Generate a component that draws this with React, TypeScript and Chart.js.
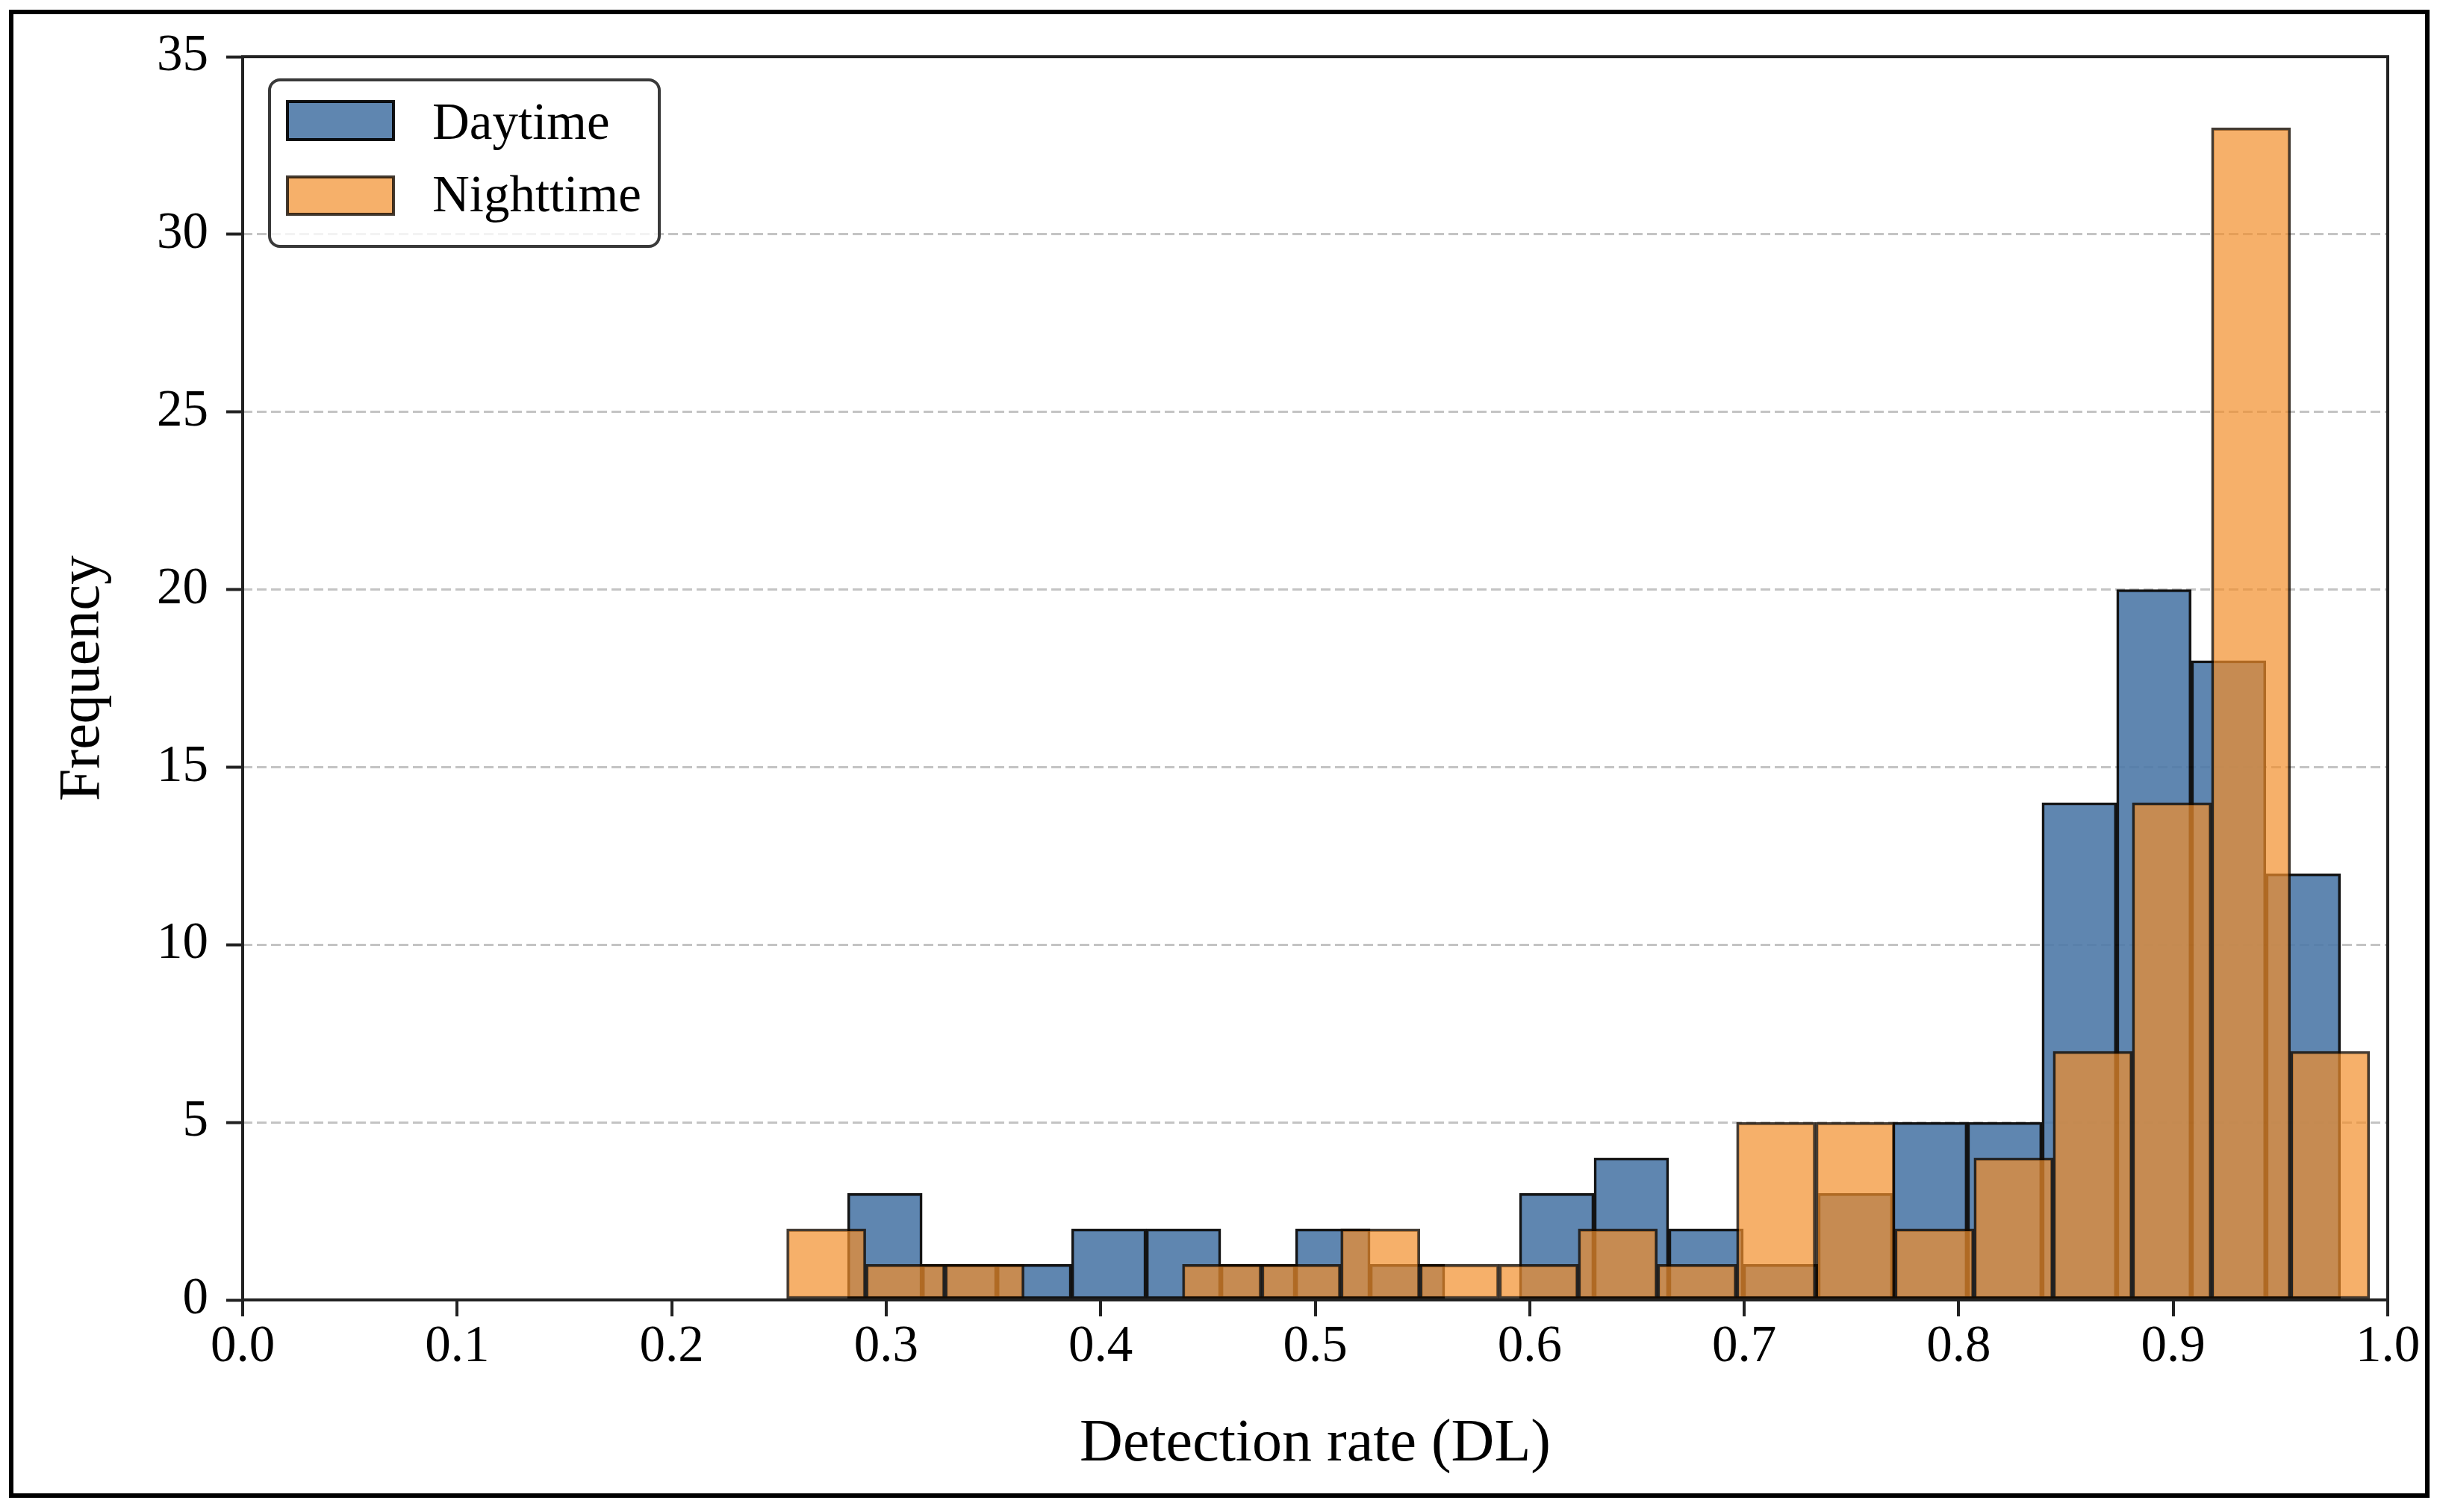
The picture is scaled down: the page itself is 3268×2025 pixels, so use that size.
import React, { useEffect, useRef } from 'react';
import { Chart, registerables } from 'chart.js';

Chart.register(...registerables);

// ---- data ----
const seriesLabels = ['Daytime', 'Nighttime'];

// histogram bin edges (detection rate)
const dayBinEdges = [
  0.2820, 0.3168, 0.3516, 0.3864, 0.4212, 0.4560, 0.4908, 0.5256, 0.5604, 0.5952,
  0.6300, 0.6648, 0.6996, 0.7344, 0.7692, 0.8040, 0.8388, 0.8736, 0.9084, 0.9432, 0.9780,
];
const dayCounts = [3, 1, 1, 2, 2, 1, 2, 1, 0, 3, 4, 2, 1, 3, 5, 5, 14, 20, 18, 12];

const nightBinEdges = [
  0.2536, 0.2905, 0.3274, 0.3643, 0.4012, 0.4381, 0.4750, 0.5119, 0.5488, 0.5857,
  0.6226, 0.6595, 0.6964, 0.7333, 0.7702, 0.8071, 0.8440, 0.8809, 0.9178, 0.9547, 0.9916,
];
const nightCounts = [2, 1, 1, 0, 0, 1, 1, 2, 1, 1, 2, 1, 5, 5, 2, 4, 7, 14, 33, 7];

const xAxisRange = [0, 1];
const xTickStep = 0.1;
const yAxisRange = [0, 35];
const yTickStep = 5;

const xTitle = 'Detection rate (DL)';
const yTitle = 'Frequency';

// ---- helpers ----
const toPoints = (edges: number[], counts: number[]) =>
  counts.map((c, i) => ({ x: (edges[i] + edges[i + 1]) / 2, y: c }));

const FONT = '"Liberation Serif", "Times New Roman", Times, serif';
Chart.defaults.font.family = FONT;

const spinesPlugin = {
  id: 'spines',
  afterDatasetsDraw(chart: any) {
    const { ctx, chartArea } = chart;
    const { left, top, right, bottom } = chartArea;
    ctx.save();
    ctx.strokeStyle = '#222';
    ctx.lineWidth = 4;
    ctx.strokeRect(left, top, right - left, bottom - top);
    ctx.restore();
  },
};

const boxLegendPlugin = {
  id: 'boxLegend',
  afterDraw(chart: any) {
    const { ctx } = chart;
    const ds = chart.data.datasets;
    ctx.save();
    ctx.beginPath();
    ctx.roundRect(361, 107, 522, 223, 14);
    ctx.fillStyle = 'rgba(255,255,255,0.8)';
    ctx.fill();
    ctx.lineWidth = 4;
    ctx.strokeStyle = '#3a3a3a';
    ctx.stroke();
    const rows = [
      { sy: 136, sh: 51, base: 186 },
      { sy: 237, sh: 50, base: 283 },
    ];
    ds.forEach((d: any, i: number) => {
      const r = rows[i];
      ctx.fillStyle = '#fff';
      ctx.fillRect(385, r.sy, 142, r.sh);
      ctx.fillStyle = d.backgroundColor;
      ctx.fillRect(385, r.sy, 142, r.sh);
      ctx.lineWidth = 4;
      ctx.strokeStyle = d.borderColor;
      ctx.strokeRect(385, r.sy, 142, r.sh);
      ctx.fillStyle = '#000';
      ctx.font = `69px ${FONT}`;
      ctx.textBaseline = 'alphabetic';
      ctx.textAlign = 'left';
      ctx.fillText(d.label, 579, r.base);
    });
    ctx.restore();
  },
};

export default function App() {
  const canvasRef = useRef<HTMLCanvasElement | null>(null);

  useEffect(() => {
    document.body.style.margin = '0';
    document.body.style.overflow = 'hidden';
    const canvas = canvasRef.current;
    if (!canvas) return;

    const barCommon = {
      borderWidth: 3.5,
      borderSkipped: false,
      barPercentage: 1,
      categoryPercentage: 1,
      grouped: false,
      yAxisID: 'y',
    };

    const hiddenX = {
      type: 'linear',
      display: false,
      offset: false,
      min: xAxisRange[0],
      max: xAxisRange[1],
      ticks: { stepSize: 0.5 },
      grid: { offset: false },
    };

    const chart = new Chart(canvas, {
      type: 'bar',
      data: {
        datasets: [
          {
            ...barCommon,
            label: seriesLabels[0],
            data: toPoints(dayBinEdges, dayCounts),
            xAxisID: 'xDay',
            backgroundColor: 'rgba(78,121,167,0.9)',
            borderColor: 'rgba(0,0,0,0.92)',
            order: 2,
          },
          {
            ...barCommon,
            label: seriesLabels[1],
            data: toPoints(nightBinEdges, nightCounts),
            xAxisID: 'xNight',
            backgroundColor: 'rgba(242,142,43,0.7)',
            borderColor: 'rgba(20,10,0,0.8)',
            order: 1,
          },
        ] as any,
      },
      plugins: [spinesPlugin, boxLegendPlugin],
      options: {
        animation: false,
        responsive: false,
        devicePixelRatio: 1,
        layout: { padding: { left: 20, right: 70, top: 76, bottom: 20 } },
        plugins: {
          legend: { display: false },
          tooltip: { enabled: false },
        },
        scales: {
          x: {
            type: 'linear',
            position: 'bottom',
            offset: false,
            min: xAxisRange[0],
            max: xAxisRange[1],
            ticks: {
              stepSize: xTickStep,
              callback: (v: any) => Number(v).toFixed(1),
              font: { size: 69 },
              color: '#000',
              padding: 0,
              maxRotation: 0,
              autoSkip: false,
            },
            grid: {
              offset: false,
              drawOnChartArea: false,
              drawTicks: true,
              tickLength: 22,
              tickWidth: 4,
              tickColor: '#222',
              lineWidth: 4,
              color: '#222',
            },
            border: { display: false },
            title: {
              display: true,
              text: xTitle,
              font: { size: 80 },
              color: '#000',
              padding: { top: 0, bottom: 22 },
            },
            afterFit: (s: any) => {
              s.height = 264;
            },
          },
          xDay: hiddenX,
          xNight: hiddenX,
          y: {
            type: 'linear',
            position: 'left',
            min: yAxisRange[0],
            max: yAxisRange[1],
            ticks: {
              stepSize: yTickStep,
              font: { size: 69 },
              color: '#000',
              padding: 24,
            },
            grid: {
              color: '#c4c4c4',
              lineWidth: 3,
              drawTicks: true,
              tickLength: 22,
              tickWidth: 4,
              tickColor: '#222',
              tickBorderDash: [],
            },
            border: { display: false, dash: [13, 6] },
            title: {
              display: true,
              text: yTitle,
              font: { size: 78 },
              color: '#000',
              padding: { top: 45, bottom: 0 },
            },
            afterFit: (s: any) => {
              s.width = 305;
            },
          },
        },
      } as any,
    });

    return () => {
      chart.destroy();
    };
  }, []);

  return (
    <div style={{ position: 'relative', width: 3268, height: 2025, background: '#fff' }}>
      <canvas
        ref={canvasRef}
        width={3268}
        height={2025}
        style={{ position: 'absolute', left: 0, top: 0, width: 3268, height: 2025 }}
      />
      <div
        style={{
          position: 'absolute',
          left: 12,
          top: 13,
          width: 3242,
          height: 1993,
          boxSizing: 'border-box',
          border: '6px solid #000',
          pointerEvents: 'none',
        }}
      />
    </div>
  );
}
